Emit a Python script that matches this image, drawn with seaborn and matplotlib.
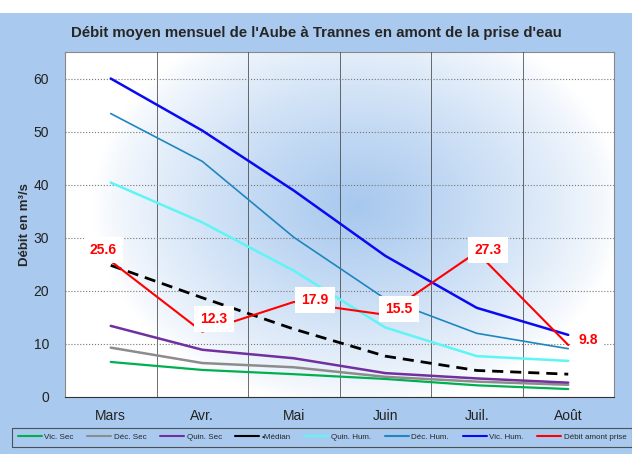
import numpy as np
import pandas as pd
import matplotlib
matplotlib.use("Agg")
import matplotlib.pyplot as plt
from matplotlib.colors import LinearSegmentedColormap
from matplotlib.patches import Rectangle
from matplotlib.lines import Line2D
import seaborn as sns

# données
mois = ["Mars", "Avr.", "Mai", "Juin", "Juil.", "Août"]
vic_sec = [6.6, 5.1, 4.3, 3.4, 2.2, 1.5]
dec_sec = [9.3, 6.4, 5.6, 3.8, 2.9, 2.3]
quin_sec = [13.4, 8.9, 7.3, 4.5, 3.5, 2.7]
median = [24.8, 18.7, 12.8, 7.7, 5.0, 4.3]
quin_hum = [40.4, 32.9, 23.8, 13.1, 7.7, 6.8]
dec_hum = [53.4, 44.4, 30.1, 18.5, 12.0, 9.1]
vic_hum = [60.0, 50.2, 38.9, 26.6, 16.8, 11.7]
debit_amont = [25.6, 12.3, 17.9, 15.5, 27.3, 9.8]

bleu_fond = "#a9caee"

sns.set_style("white")
plt.rcParams['font.family'] = ['Liberation Sans', 'DejaVu Sans']

fig = plt.figure(figsize=(6.32, 4.54), dpi=100)
fig.patch.set_facecolor(bleu_fond)
fig.patches.append(Rectangle((0, 1 - 13 / 454), 1, 13 / 454, transform=fig.transFigure,
                             facecolor="white", edgecolor="none", zorder=0))
ax = fig.add_axes([65 / 632, 1 - 397 / 454, (614 - 65) / 632, (397 - 52) / 454])

# fond en dégradé radial
gx, gy = np.meshgrid(np.linspace(-0.5, 5.5, 300), np.linspace(0, 65, 200))
r = np.sqrt(((gx - 2.7) / 2.9) ** 2 + ((gy - 36) / 38) ** 2)
z = np.clip(1 - r, 0, 1) ** 0.8
cmap = LinearSegmentedColormap.from_list("deg", ["#ffffff", "#a7c8ee"])
ax.imshow(z, extent=[-0.5, 5.5, 0, 65], origin="lower", aspect="auto",
          cmap=cmap, vmin=0, vmax=1, zorder=0)

x = np.arange(len(mois))
series = [
    ("Vic. Sec", vic_sec, "#00b050", 1.6, "-"),
    ("Déc. Sec", dec_sec, "#8c8c8c", 1.8, "-"),
    ("Quin. Sec", quin_sec, "#7030a0", 1.8, "-"),
    ("•Médian", median, "black", 2.0, (0, (4, 2.5))),
    ("Quin. Hum.", quin_hum, "#5ff5f5", 1.8, "-"),
    ("Déc. Hum.", dec_hum, "#1f86c0", 1.2, "-"),
    ("Vic. Hum.", vic_hum, "#0a0af0", 1.8, "-"),
    ("Débit amont prise", debit_amont, "#ff0000", 1.5, "-"),
]
handles = []
for nom, vals, col, lw, ls in series:
    sns.lineplot(x=x, y=vals, color=col, linewidth=lw, linestyle=ls, ax=ax, zorder=3)
    handles.append(Line2D([], [], color=col, linewidth=1.5, linestyle="-", label=nom))

# étiquettes du débit amont (position du texte en unités de données)
pos_etiq = [(-0.08, 27.7), (1.13, 14.7), (2.23, 18.3), (3.15, 16.6), (4.12, 27.7), (5.22, 10.8)]
for i, v in enumerate(debit_amont):
    ax.annotate(f"{v}", (x[i], v), xytext=pos_etiq[i], textcoords="data",
                ha="center", va="center", color="red", fontsize=10, fontweight="bold",
                bbox=dict(boxstyle="square,pad=0.45", fc="white", ec="none"), zorder=5)

ax.set_xlim(-0.5, 5.5)
ax.set_ylim(0, 65)
ax.set_yticks(range(0, 61, 10))
ax.set_xticks(x)
ax.set_xticklabels(mois)
ax.set_xticks(np.arange(0.5, 5.5, 1), minor=True)
ax.tick_params(axis="x", which="major", length=0, labelsize=10, colors="#222222", pad=9)
ax.tick_params(axis="x", which="minor", length=5, color="#333333", direction="inout")
ax.tick_params(axis="y", length=8, color="#555555", labelsize=10, labelcolor="#222222", direction="out")
ax.grid(axis="y", color="#777777", linestyle=":", linewidth=0.8, zorder=1)
ax.grid(axis="x", which="minor", color="#333333", linestyle="-", linewidth=0.5, zorder=1)
ax.set_axisbelow(False)
for s in ax.spines.values():
    s.set_color("#888888")
    s.set_linewidth(0.8)
ax.spines["bottom"].set_color("#333333")
ax.set_xlabel("")
ax.set_ylabel("Débit en m³/s", fontsize=9.5, fontweight="bold", labelpad=2)

fig.text(0.5, 1 - 33 / 454, "Débit moyen mensuel de l'Aube à Trannes en amont de la prise d'eau",
         ha="center", va="center", fontsize=10.8, fontweight="bold")

leg = fig.legend(handles=handles, loc="upper left",
                 bbox_to_anchor=(12 / 632, 0.0, 620 / 632, 1 - 428 / 454),
                 mode="expand", ncol=8, fontsize=5.8, frameon=True, fancybox=False,
                 handlelength=3.0, handletextpad=0.3, columnspacing=0.5, borderaxespad=0.0,
                 borderpad=0.7)
leg.get_frame().set_facecolor(bleu_fond)
leg.get_frame().set_edgecolor("#333333")
leg.get_frame().set_linewidth(0.8)

fig.savefig("out.png", dpi=100, facecolor=fig.get_facecolor())
